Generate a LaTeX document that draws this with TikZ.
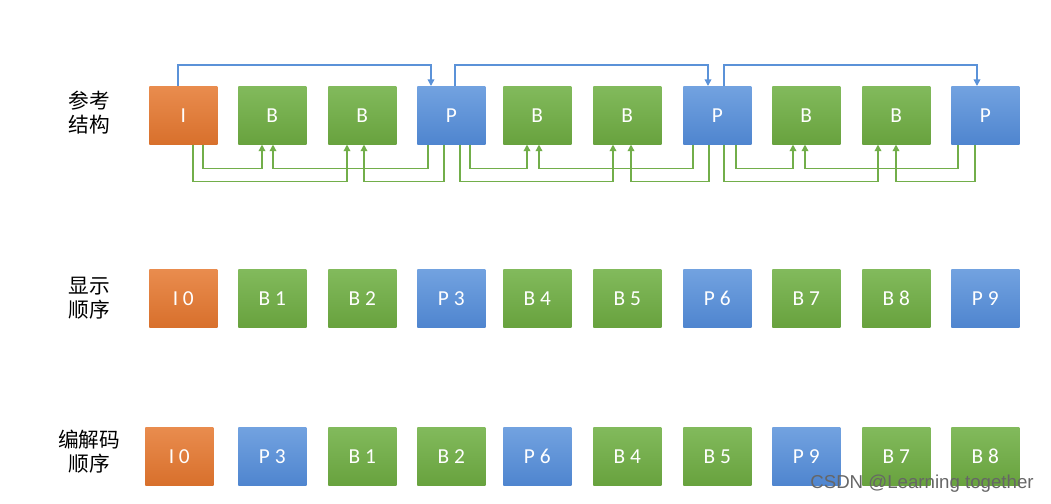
\documentclass[tikz,border=0pt]{standalone}
\usepackage{fontspec}
\setmainfont{Carlito}
\newfontfamily\cjk{Noto Sans CJK SC}
\newfontfamily\wmfont{Liberation Sans}
\usetikzlibrary{arrows.meta,calc,shadows}

\definecolor{iTop}{HTML}{E98C4E}
\definecolor{iBot}{HTML}{D8702C}
\definecolor{bTop}{HTML}{82BA5C}
\definecolor{bBot}{HTML}{68A23E}
\definecolor{pTop}{HTML}{72A2E0}
\definecolor{pBot}{HTML}{4F85CF}
\definecolor{gLine}{HTML}{72AE4A}
\definecolor{bLine}{HTML}{5B92D8}

\begin{document}
\begin{tikzpicture}[x=0.75pt,y=-0.75pt,
  frame/.style={rectangle, anchor=north west, inner sep=0pt,
    minimum width=51pt, minimum height=43.5pt, text=white,
    font=\fontsize{16}{18}\selectfont,
    drop shadow={shadow xshift=0.8pt, shadow yshift=-0.8pt, opacity=0.25}},
  iframe/.style={frame, top color=iTop, bottom color=iBot},
  bframe/.style={frame, top color=bTop, bottom color=bBot},
  pframe/.style={frame, top color=pTop, bottom color=pBot},
  rowlabel/.style={align=center, font=\cjk\fontsize{15.5}{18}\selectfont},
  garr/.style={draw=gLine, line width=1.1pt, -{Triangle[width=5pt,length=5pt]}},
  barr/.style={draw=bLine, line width=1.1pt, -{Triangle[width=5pt,length=5pt]}}]

\useasboundingbox (0,0) rectangle (1051,504);

% row labels
\node[rowlabel] (l1) at (89,113) {参考\\结构};
\node[rowlabel] (l2) at (89,298) {显示\\顺序};
\node[rowlabel] (l3) at (89,452) {编解码\\顺序};

% reference structure
\node[iframe] (r1)  at (149,86) {I};
\node[bframe] (r2)  at (238,86) {B};
\node[bframe] (r3)  at (328,86) {B};
\node[pframe] (r4)  at (417,86) {P};
\node[bframe] (r5)  at (503,86) {B};
\node[bframe] (r6)  at (593,86) {B};
\node[pframe] (r7)  at (683,86) {P};
\node[bframe] (r8)  at (772,86) {B};
\node[bframe] (r9)  at (862,86) {B};
\node[pframe] (r10) at (951,86) {P};

% display order
\node[iframe] (d0) at (149,269) {I 0};
\node[bframe] (d1) at (238,269) {B 1};
\node[bframe] (d2) at (328,269) {B 2};
\node[pframe] (d3) at (417,269) {P 3};
\node[bframe] (d4) at (503,269) {B 4};
\node[bframe] (d5) at (593,269) {B 5};
\node[pframe] (d6) at (683,269) {P 6};
\node[bframe] (d7) at (772,269) {B 7};
\node[bframe] (d8) at (862,269) {B 8};
\node[pframe] (d9) at (951,269) {P 9};

% decoding order
\node[iframe] (c0) at (145,427) {I 0};
\node[pframe] (c1) at (238,427) {P 3};
\node[bframe] (c2) at (328,427) {B 1};
\node[bframe] (c3) at (417,427) {B 2};
\node[pframe] (c4) at (503,427) {P 6};
\node[bframe] (c5) at (593,427) {B 4};
\node[bframe] (c6) at (683,427) {B 5};
\node[pframe] (c7) at (772,427) {P 9};
\node[bframe] (c8) at (862,427) {B 7};
\node[bframe] (c9) at (951,427) {B 8};

% forward references between anchor frames (over the top)
\foreach \s/\so/\t/\to in {r1/29/r4/14, r4/38/r7/25, r7/41/r10/26}
  \draw[barr] ($(\s.north west)+(\so,0)$) -- ++(0,-21) -| ($(\t.north west)+(\to,0)$);

% bidirectional references into B frames (underneath)
\foreach \s/\so/\lv/\t/\to in {
    r1/44/37/r3/19,  r1/54/24/r2/24,  r4/11/24/r2/35,  r4/27/37/r3/36,
    r4/43/37/r6/20,  r4/53/24/r5/24,  r7/10/24/r5/36,  r7/26/37/r6/38,
    r7/41/37/r9/16,  r7/53/24/r8/21,  r10/7/24/r8/33,  r10/24/37/r9/34}
  \draw[garr] ($(\s.south west)+(\so,0)$) -- ++(0,\lv) -| ($(\t.south west)+(\to,0)$);

% watermark
\node[text=black!60, font=\wmfont\fontsize{14}{16}\selectfont] (wm) at (922,484) {CSDN @Learning together};
\end{tikzpicture}
\end{document}
